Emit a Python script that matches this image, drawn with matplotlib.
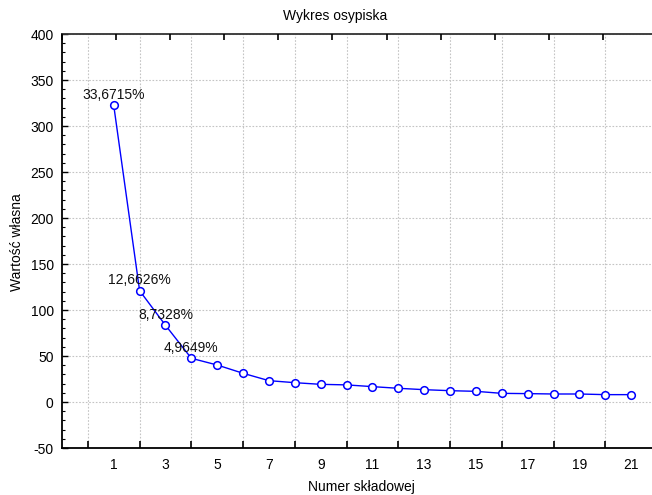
import matplotlib
matplotlib.use("Agg")
import matplotlib.pyplot as plt
from matplotlib.ticker import MultipleLocator, FixedLocator, NullFormatter

plt.rcParams['font.family'] = ['Liberation Sans', 'DejaVu Sans']
plt.rcParams['axes.unicode_minus'] = False

components = list(range(1, 22))
eigenvalues = [322.3, 121.0, 83.4, 47.5, 40.2, 31.2, 23.2, 21.0, 19.2, 18.6,
               16.7, 14.9, 13.4, 12.3, 11.6, 9.4, 9.1, 8.7, 8.7, 8.0, 8.0]
pct_labels = ["33,6715%", "12,6626%", "8,7328%", "4,9649%"]
x_tick_labels = [str(v) for v in range(1, 22, 2)]
title = "Wykres osypiska"
xlabel = "Numer składowej"
ylabel = "Wartość własna"

fig = plt.figure(figsize=(6.52, 4.95), dpi=100)
ax = fig.add_axes([62/652, 1-448/495, (657-62)/652, (448-34)/495])

ax.plot(components, eigenvalues, color='#0000ff', linewidth=1.0, marker='o',
        markersize=5.5, markerfacecolor='white', markeredgecolor='#0000ff',
        markeredgewidth=1.1, zorder=3)

for i, lab in enumerate(pct_labels):
    ax.annotate(lab, (components[i], eigenvalues[i]), xytext=(0, 2.5),
                textcoords='offset points', ha='center', va='bottom',
                fontsize=10, color='#111111', zorder=4)

ax.set_xlim(-1, 22)
ax.set_ylim(-50, 400)

# x axis: labels at odd positions, ticks+grid at even positions
ax.xaxis.set_major_locator(FixedLocator(list(range(1, 22, 2))))
ax.set_xticklabels(x_tick_labels)
ax.xaxis.set_minor_locator(FixedLocator(list(range(0, 22, 2))))
ax.tick_params(axis='x', which='major', length=0, pad=7, labelsize=10)
ax.tick_params(axis='x', which='minor', direction='in', length=5, width=1.2,
               top=False)
ax.grid(True, axis='x', which='minor', color='#c4c4c4', linestyle=(0, (1.5, 1.5)),
        linewidth=0.8)

# y axis
ax.yaxis.set_major_locator(MultipleLocator(50))
ax.yaxis.set_minor_locator(MultipleLocator(10))
ax.tick_params(axis='y', which='major', direction='in', length=4, width=1.0,
               labelsize=10, pad=6)
ax.tick_params(axis='y', which='minor', direction='in', length=2.5, width=0.8)
ax.grid(True, axis='y', which='major', color='#c4c4c4', linestyle=(0, (1.5, 1.5)),
        linewidth=0.8)
ax.set_axisbelow(True)

for s in ['left', 'bottom']:
    ax.spines[s].set_linewidth(1.3)
    ax.spines[s].set_color('black')
ax.spines['top'].set_linewidth(1.3)
ax.spines['top'].set_color('#333333')
ax.spines['right'].set_visible(False)

# top axis ticks (11 equal divisions, no labels)
top = ax.twiny()
top.set_xlim(0, 11)
top.xaxis.set_major_locator(FixedLocator(list(range(0, 12))))
top.xaxis.set_major_formatter(NullFormatter())
top.tick_params(axis='x', which='major', direction='in', length=4, width=1.2)
for s in top.spines.values():
    s.set_visible(False)

fig.text(335/652, 1-16/495, title, ha='center', va='center', fontsize=10)
fig.text(361/652, 1-487/495, xlabel, ha='center', va='center', fontsize=10)
fig.text(17/652, 1-242/495, ylabel, ha='center', va='center', rotation=90, fontsize=10)

fig.savefig('out.png', dpi=100)
